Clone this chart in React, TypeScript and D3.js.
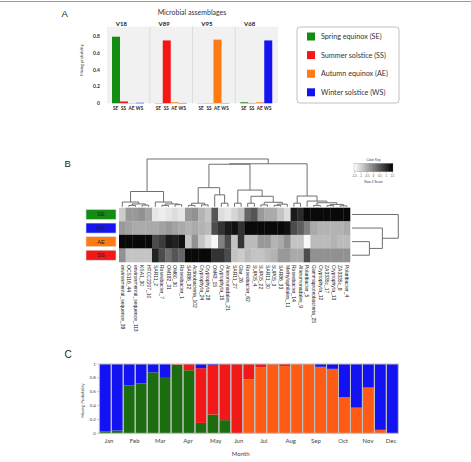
import React from "react";
import * as d3 from "d3";

const W = 471;
const H = 462;

// ---------- shared season definitions ----------
const seasonKeys = ["SE", "SS", "AE", "WS"];
const seasonNames = [
  "Spring equinox (SE)",
  "Summer solstice (SS)",
  "Autumn equinox (AE)",
  "Winter solstice (WS)",
];
const seasonColors: Record<string, string> = {
  SE: "#128c12",
  SS: "#f51616",
  AE: "#ff7a12",
  WS: "#1414f0",
};

// ---------- Panel A: mixing probability of each assemblage ----------
const assemblages = ["V18", "V89", "V95", "V68"];
const probSE = [0.8, 0.003, 0.002, 0.012];
const probSS = [0.022, 0.755, 0.003, 0.004];
const probAE = [0.004, 0.012, 0.765, 0.012];
const probWS = [0.006, 0.004, 0.003, 0.755];
const probTicks = [0, 0.2, 0.4, 0.6, 0.8];

// ---------- Panel B: heatmap of taxa by season ----------
const taxa = [
  "environmental_sequence_38",
  "OCS116_44",
  "environmental_sequence_113",
  "KSA1_30",
  "HTCC2207_10",
  "SAR11_2",
  "Roseobacter_7",
  "OM182_31",
  "OM60_30",
  "Roseobacter_1",
  "SAR86_32",
  "Actinobacteria_102",
  "Cryptophyta_24",
  "Cryptophyta_28",
  "OM43_15",
  "Cryptophyta_15",
  "Alteromonadales_21",
  "SAR11_27",
  "Glar_26",
  "Roseobacter_62",
  "SUP05_4",
  "SUP05_22",
  "SAR11_30",
  "SUP05_3",
  "SAR86_33",
  "Methylophilales_11",
  "Roseobacter_14",
  "Alteromonadales_9",
  "Polaribacter_5",
  "Gammaproteobacteria_25",
  "Cryptophyta_12",
  "ZA3335c_17",
  "Cryptophyta_13",
  "ZA3335c_8",
  "Polaribacter_4",
];
const heatRows = ["SE", "WS", "AE", "SS"];
const zSE = [-0.9, -0.3, -0.3, -0.2, -0.4, -1.2, -1.3, -1.2, -1.1, -1.2, -0.3, -0.2, -0.6, -0.8, 0.5, -1.1, -1.2, -1.0, -0.8, 0.3, 0.5, -0.3, -0.5, -0.5, -0.8, -1.1, 1.2, 1.0, 1.4, 1.4, 1.4, 1.4, 1.4, 1.4, 1.4];
const zWS = [-0.3, -0.4, -0.5, -0.5, -0.5, -0.5, -0.4, -0.3, -0.4, -0.5, -0.6, -0.5, -0.6, -0.7, 0.6, 0.9, 1.2, 1.3, 0.9, 1.4, 1.4, 1.4, 1.4, 1.4, 1.4, 1.3, 0.6, 0.4, 0.0, -0.5, -0.6, -0.6, -0.6, -0.6, -0.5];
const zAE = [1.4, 1.4, 1.4, 1.4, 1.4, 0.6, 0.8, 1.2, 1.1, 1.3, -0.8, -0.2, -0.8, -1.1, -1.4, 0.0, 0.6, -0.8, 0.9, -0.7, -0.7, -0.3, -0.3, -0.6, -0.5, -0.2, -0.8, -0.8, -1.4, -0.7, -0.7, -0.7, -0.6, -0.7, -0.7];
const zSS = [-0.2, -0.8, -0.8, -0.8, -0.8, 1.1, 0.6, 0.2, 0.5, 0.3, 1.4, 1.4, 1.4, 1.4, 0.9, 0.9, 0.6, -0.8, -0.9, -0.7, -0.8, -0.8, -0.7, -0.6, -0.3, -0.3, -0.5, -0.5, 0.6, -0.2, -0.2, -0.2, -0.2, -0.2, -0.2];
const keyTicks = [-1.5, -1, -0.5, 0, 0.5, 1, 1.5];

// hclust-style merges: negative = leaf -(i+1), positive = earlier merge (1-based), then height
type Merge = [number, number, number];
const colMerges: Merge[] = [
  [-2, -3, 0.3], [-4, -5, 0.35], [1, 2, 0.6], [-1, 3, 1.0],
  [-7, -8, 0.3], [-9, -10, 0.45], [5, 6, 0.6], [-6, 7, 1.0],
  [4, 8, 3.2],
  [-11, -12, 0.3], [-13, -14, 0.4], [10, 11, 0.75], [-16, -17, 0.75], [-15, 13, 2.5],
  [12, 14, 4.0],
  [-18, -19, 0.75], [-20, -21, 0.75], [-22, -23, 0.4], [-24, -25, 0.3], [19, -26, 0.55],
  [18, 20, 0.95], [17, 21, 2.2], [16, 22, 3.5],
  [-27, -28, 0.75], [-30, -31, 0.3], [-32, -33, 0.25], [-34, -35, 0.2], [26, 27, 0.5],
  [25, 28, 0.85], [-29, 29, 1.2], [24, 30, 2.25],
  [15, 23, 8.9], [32, 31, 9.0], [9, 33, 10],
];
const rowMerges: Merge[] = [
  [-3, -4, 0.94],
  [-2, 1, 1.64],
  [-1, 2, 2.5],
];

// ---------- Panel C: mixing probability per sampling date ----------
const sampleSE = [0.03, 0.04, 0.69, 0.72, 0.88, 0.8, 0.99, 0.91, 0.15, 0.27, 0.19, 0, 0, 0, 0, 0, 0, 0, 0, 0, 0, 0, 0, 0, 0];
const sampleAE = [0, 0, 0, 0, 0, 0, 0, 0, 0, 0, 0, 0, 0.78, 0.95, 1.0, 0.97, 1.0, 1.0, 0.96, 0.93, 0.52, 0.37, 0.66, 0.05, 0];
const sampleSS = [0, 0, 0, 0, 0, 0, 0.01, 0.09, 0.79, 0.705, 0.81, 1.0, 0.22, 0.05, 0, 0.03, 0, 0, 0, 0, 0, 0, 0, 0, 0];
const sampleWS = [0.97, 0.96, 0.31, 0.28, 0.12, 0.2, 0, 0, 0.06, 0.025, 0, 0, 0, 0, 0, 0, 0, 0, 0.04, 0.07, 0.48, 0.63, 0.34, 0.95, 1.0];
const months = ["Jan", "Feb", "Mar", "Apr", "May", "Jun", "Jul", "Aug", "Sep", "Oct", "Nov", "Dec"];
// month label positions, in units of sample slots
const monthPos = [0.81, 2.96, 5.1, 7.42, 9.73, 11.66, 13.75, 16.0, 18.11, 20.38, 22.47, 24.39];
const cTicks = [0, 0.2, 0.4, 0.6, 0.8, 1];
const cColors: Record<string, string> = {
  SE: "#1b6d0f",
  AE: "#ff5b14",
  SS: "#f21818",
  WS: "#1212f2",
};

const SANS = "Lato, 'Open Sans', sans-serif";
const ARIAL = "'Liberation Sans', Arial, sans-serif";

function dendroSegments(merges: Merge[], leafPos: (i: number) => number) {
  const nodes: { p: number; h: number }[] = [];
  const pick = (id: number) => (id < 0 ? { p: leafPos(-id - 1), h: 0 } : nodes[id - 1]);
  return merges.map(([a, b, h]) => {
    const A = pick(a);
    const B = pick(b);
    nodes.push({ p: (A.p + B.p) / 2, h });
    return [
      [A.p, A.h],
      [A.p, h],
      [B.p, h],
      [B.p, B.h],
    ] as [number, number][];
  });
}

function PanelA() {
  const probs: Record<string, number[]> = { SE: probSE, SS: probSS, AE: probAE, WS: probWS };
  const fx = d3.scaleBand<string>().domain(assemblages).range([107, 278]);
  const bx = d3.scaleBand<string>().domain(seasonKeys).range([5, 37]);
  const y = d3.scaleLinear().domain([0, 0.92]).range([103.3, 26.7]);
  return (
    <g>
      <text x={61.5} y={16.5} fontFamily={ARIAL} fontSize={9.5} fill="#222">A</text>
      <text x={192} y={14.5} textAnchor="middle" fontFamily={SANS} fontSize={7} fill="#333">
        Microbial assemblages
      </text>
      {assemblages.map((a, i) => (
        <g key={a}>
          <rect x={fx(a)} y={y(0.92)} width={fx.bandwidth()} height={y(0) - y(0.92)} fill="#f1f1f1" />
          {i > 0 && (
            <line x1={fx(a)} x2={fx(a)} y1={y(0.92)} y2={y(0)} stroke="#d6d6d6" strokeWidth={0.8} />
          )}
          <text x={fx(a)! + fx.bandwidth() / 2 - 7} y={26} textAnchor="middle" fontFamily={SANS} fontWeight="bold" fontSize={6} fill="#222">
            {a}
          </text>
          {seasonKeys.map((s) => {
            const v = probs[s][i];
            return (
              <rect
                key={s}
                x={fx(a)! + bx(s)!}
                y={y(v)}
                width={bx.bandwidth()}
                height={y(0) - y(v)}
                fill={seasonColors[s]}
              />
            );
          })}
          {seasonKeys.map((s) => (
            <text
              key={s}
              x={fx(a)! + bx(s)! + bx.bandwidth() / 2 - 0.5}
              y={110}
              textAnchor="middle"
              fontFamily={SANS}
              fontWeight="bold"
              fontSize={4.6}
              fill="#222"
            >
              {s}
            </text>
          ))}
        </g>
      ))}
      {probTicks.map((t) => (
        <text key={t} x={100} y={y(t) + 1.7} textAnchor="end" fontFamily={SANS} fontWeight="bold" fontSize={5} fill="#333">
          {t === 0 ? "0" : t.toFixed(1)}
        </text>
      ))}
      <text
        transform={`translate(83,${(y(0) + y(0.92)) / 2 - 5}) rotate(-90)`}
        textAnchor="middle"
        fontFamily={SANS}
        fontSize={4}
        fill="#444"
      >
        Mixing probability
      </text>
      {/* legend */}
      <rect x={297} y={27} width={102} height={76} rx={3} fill="#fff" stroke="#b0b0b0" strokeWidth={0.8} />
      {seasonKeys.map((s, i) => {
        const cy = 36.5 + i * 18.6;
        return (
          <g key={s}>
            <rect x={307} y={cy - 4} width={8} height={8} fill={seasonColors[s]} />
            <text x={321} y={cy + 2.5} fontFamily={SANS} fontSize={7.2} fill="#333">
              {seasonNames[i]}
            </text>
          </g>
        );
      })}
    </g>
  );
}

function PanelB() {
  const zRows: Record<string, number[]> = { SE: zSE, WS: zWS, AE: zAE, SS: zSS };
  const x = d3.scaleBand<number>().domain(d3.range(taxa.length)).range([119, 350]);
  const y = d3.scaleBand<string>().domain(heatRows).range([207.7, 262]);
  const color = d3.scaleLinear<string>().domain([-1.5, 1.5]).range(["#ffffff", "#000000"]).clamp(true);
  const yDen = d3.scaleLinear().domain([0, 10]).range([206.8, 159]);
  const xDen = d3.scaleLinear().domain([0, 2.5]).range([352, 398.3]);
  const line = d3.line();
  const colSegs = dendroSegments(colMerges, (i) => x(i)! + x.bandwidth() / 2);
  const rowSegs = dendroSegments(rowMerges, (i) => y(heatRows[i])! + y.bandwidth() / 2);
  const keyX = d3.scaleLinear().domain([-1.5, 1.5]).range([354.5, 392.5]);
  return (
    <g>
      <defs>
        <linearGradient id="zkey" x1="0" x2="1" y1="0" y2="0">
          {keyTicks.map((t) => (
            <stop key={t} offset={(t + 1.5) / 3} stopColor={color(t)} />
          ))}
        </linearGradient>
      </defs>
      <text x={64.5} y={167} fontFamily={ARIAL} fontSize={9.5} fill="#222">B</text>
      {/* column dendrogram */}
      {colSegs.map((pts, i) => (
        <path
          key={i}
          d={line(pts.map(([p, h]) => [p, yDen(h)] as [number, number]))!}
          fill="none"
          stroke="#6f6f6f"
          strokeWidth={1}
        />
      ))}
      {/* row dendrogram */}
      {rowSegs.map((pts, i) => (
        <path
          key={i}
          d={line(pts.map(([p, h]) => [xDen(h), p] as [number, number]))!}
          fill="none"
          stroke="#6f6f6f"
          strokeWidth={1}
        />
      ))}
      {/* heatmap cells */}
      {heatRows.map((r) =>
        zRows[r].map((v, j) => (
          <rect
            key={r + j}
            x={x(j)}
            y={y(r)}
            width={x.bandwidth() + 0.3}
            height={y.bandwidth() + 0.3}
            fill={color(v)}
          />
        ))
      )}
      {/* row side colours */}
      {heatRows.map((r) => {
        const cy = y(r)! + y.bandwidth() / 2;
        return (
          <g key={r}>
            <rect x={86} y={cy - 5} width={30} height={10} fill={seasonColors[r]} stroke="#dcdcdc" strokeWidth={0.6} />
            <text x={101} y={cy + 2} textAnchor="middle" fontFamily={ARIAL} fontSize={5.6} fill="#222">
              {r}
            </text>
          </g>
        );
      })}
      {/* taxa labels */}
      {taxa.map((t, j) => (
        <text
          key={t}
          transform={`translate(${x(j)! + x.bandwidth() / 2},265) rotate(90)`}
          dy="0.35em"
          fontFamily={ARIAL}
          fontSize={5}
          fill="#222"
        >
          {t}
        </text>
      ))}
      {/* colour key */}
      <text x={373.5} y={160.5} textAnchor="middle" fontFamily={ARIAL} fontSize={3.2} fill="#333">
        Color Key
      </text>
      <rect x={354} y={163.3} width={39} height={8.5} fill="url(#zkey)" stroke="#888" strokeWidth={0.3} />
      {keyTicks.map((t) => (
        <g key={t}>
          <line x1={keyX(t)} x2={keyX(t)} y1={171.8} y2={173.3} stroke="#555" strokeWidth={0.3} />
          <text x={keyX(t)} y={176.6} textAnchor="middle" fontFamily={ARIAL} fontSize={2.6} fill="#333">
            {String(t)}
          </text>
        </g>
      ))}
      <text x={373.5} y={182.6} textAnchor="middle" fontFamily={ARIAL} fontSize={3.2} fill="#333">
        Row Z-Score
      </text>
    </g>
  );
}

function PanelC() {
  const n = sampleSE.length;
  const samples = d3.range(n).map((i) => ({
    SE: sampleSE[i],
    AE: sampleAE[i],
    SS: sampleSS[i],
    WS: sampleWS[i],
  }));
  const stack = d3.stack<{ [k: string]: number }>().keys(["SE", "AE", "SS", "WS"]);
  const series = stack(samples);
  const x = d3.scaleBand<number>().domain(d3.range(n)).range([99.3, 398.3]);
  const xm = d3.scaleLinear().domain([0, n]).range([99.3, 398.3]);
  const y = d3.scaleLinear().domain([0, 1]).range([433.3, 364]);
  return (
    <g>
      <text x={64.5} y={357.5} fontFamily={ARIAL} fontSize={10} fill="#222">C</text>
      {series.map((s) => (
        <g key={s.key}>
          {s.map((d, i) => (
            <rect
              key={i}
              x={x(i)}
              y={y(d[1])}
              width={x.bandwidth()}
              height={Math.max(0, y(d[0]) - y(d[1]))}
              fill={cColors[s.key]}
            />
          ))}
        </g>
      ))}
      {d3.range(n).map((i) => (
        <rect
          key={i}
          x={x(i)}
          y={y(1)}
          width={x.bandwidth()}
          height={y(0) - y(1)}
          fill="none"
          stroke="#c0c0c0"
          strokeWidth={1}
        />
      ))}
      {cTicks.map((t) => (
        <g key={t}>
          <line x1={96.8} x2={99} y1={y(t)} y2={y(t)} stroke="#999" strokeWidth={0.5} />
          <text x={95.8} y={y(t) + 1.5} textAnchor="end" fontFamily={SANS} fontSize={4.3} fill="#444">
            {String(t)}
          </text>
        </g>
      ))}
      <text
        transform={`translate(83.5,${(y(0) + y(1)) / 2 + 2}) rotate(-90)`}
        textAnchor="middle"
        fontFamily={SANS}
        fontSize={4.3}
        fill="#444"
      >
        Mixing Probability
      </text>
      {months.map((m, i) => (
        <text key={m} x={xm(monthPos[i])} y={442.8} textAnchor="middle" fontFamily={SANS} fontSize={6} fill="#444">
          {m}
        </text>
      ))}
      <text x={240.7} y={455.5} textAnchor="middle" fontFamily={SANS} fontSize={6} fill="#444">
        Month
      </text>
    </g>
  );
}

export default function App() {
  return (
    <svg
      width={W}
      height={H}
      viewBox={`0 0 ${W} ${H}`}
      style={{ position: "absolute", left: 0, top: 0, background: "#fff" }}
    >
      <rect x={0} y={0} width={W} height={H} fill="#fff" />
      <line x1={0} x2={W} y1={1.5} y2={1.5} stroke="#9a9a9a" strokeWidth={1} />
      <PanelA />
      <PanelB />
      <PanelC />
    </svg>
  );
}
